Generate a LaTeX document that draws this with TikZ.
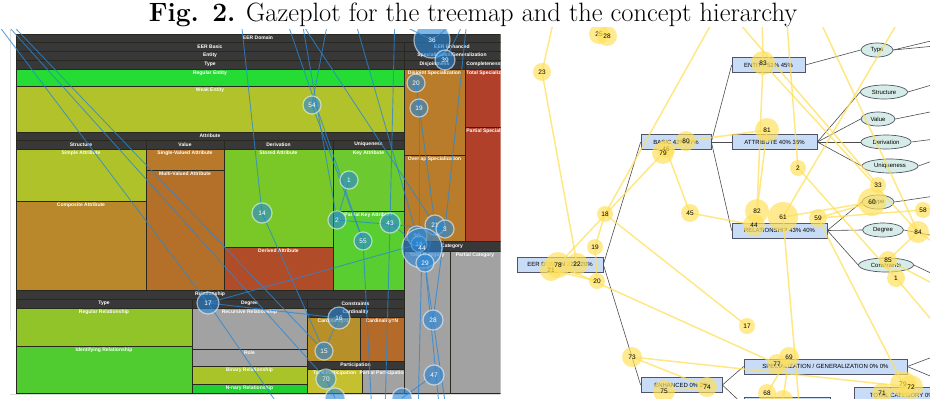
\documentclass[tikz,border=0pt]{standalone}
\usepackage{fontspec}
\setsansfont{Liberation Sans}
\usepackage{tikz}
\usetikzlibrary{shapes.geometric}
\definecolor{cHead}    {RGB}{56,56,56}
\definecolor{cTmEdge}  {RGB}{40,40,30}
\definecolor{cRegEnt}  {RGB}{36,220,52}
\definecolor{cWeakEnt} {RGB}{178,194,42}
\definecolor{cSimple}  {RGB}{176,194,42}
\definecolor{cComp}    {RGB}{184,136,42}
\definecolor{cSingle}  {RGB}{184,122,42}
\definecolor{cMulti}   {RGB}{180,112,40}
\definecolor{cStored}  {RGB}{122,200,40}
\definecolor{cDerived} {RGB}{176,76,40}
\definecolor{cKey}     {RGB}{108,202,48}
\definecolor{cPartKey} {RGB}{88,206,48}
\definecolor{cDisj}    {RGB}{184,124,42}
\definecolor{cTotSpec} {RGB}{176,64,42}
\definecolor{cGrey}    {RGB}{162,162,162}
\definecolor{cRegRel}  {RGB}{144,196,40}
\definecolor{cIdRel}   {RGB}{80,204,48}
\definecolor{cBinRel}  {RGB}{168,196,40}
\definecolor{cNnary}   {RGB}{32,208,48}
\definecolor{cCardA}   {RGB}{184,144,42}
\definecolor{cCardN}   {RGB}{180,106,40}
\definecolor{cTotPart} {RGB}{196,192,48}
\definecolor{cBox}     {RGB}{200,220,248}
\definecolor{cBoxLine} {RGB}{80,84,100}
\definecolor{cEll}     {RGB}{214,236,232}
\definecolor{cGazeB}   {RGB}{40,135,215}
\definecolor{cGazeY}   {RGB}{255,224,90}
\pgfdeclarelayer{bottom}
\pgfdeclarelayer{lines}
\pgfsetlayers{bottom,lines,main}
\tikzset{
  tmline/.style={draw=cTmEdge,line width=0.5pt},
  tmlbl/.style={text=white,inner sep=1.2pt,font=\sffamily\bfseries\fontsize{5}{5}\selectfont},
  gazeB/.style={circle,minimum size=#1,inner sep=0pt,fill=cGazeB,fill opacity=0.6,
                draw=white,draw opacity=0.55,line width=1.2pt,text=white,text opacity=1,
                font=\sffamily\fontsize{6.5}{7}\selectfont},
  gazeY/.style={circle,minimum size=#1,inner sep=0pt,fill=cGazeY,fill opacity=0.68,
                text=black,text opacity=1,font=\sffamily\fontsize{6.5}{7}\selectfont},
  bpath/.style={cGazeB,line width=0.9pt,opacity=0.75},
  ypath/.style={cGazeY,line width=1.5pt,opacity=0.75},
  cbox/.style={draw=cBoxLine,fill=cBox,line width=0.7pt,minimum height=15pt,inner sep=0pt,
               font=\sffamily\fontsize{6}{6}\selectfont}, % concept box
  concept/.style={ellipse,draw=cBoxLine,fill=cEll,line width=0.7pt,minimum height=14pt,
                  inner sep=0pt,font=\sffamily\fontsize{6}{6}\selectfont}, % leaf concept
  tree/.style={draw=black!70,line width=0.6pt},
}
% treemap cell: x1,y1,x2,y2,colour,label
\newcommand{\tmcell}[6]{%
  \draw[tmline,fill=#5] (#1,#2) rectangle (#3,#4);
  \node[tmlbl,anchor=north] at ({(#1+#3)/2},#2) {#6};}
% treemap header row: x1,y1,x2,y2,label
\newcommand{\tmhead}[5]{%
  \draw[tmline,fill=cHead] (#1,#2) rectangle (#3,#4);
  \node[tmlbl] at ({(#1+#3)/2},{(#2+#4)/2}) {#5};}

\begin{document}
\begin{tikzpicture}[x=1pt,y=-1pt]
  \useasboundingbox (0,0) rectangle (930,399);
  \node[anchor=base,font=\fontsize{26.5}{28}\selectfont] (title) at (473,21)
    {\textbf{Fig. 2.} Gazeplot for the treemap and the concept hierarchy};

  \begin{pgfonlayer}{bottom}
  % treemap
  \begin{scope}
    \clip (0,29) rectangle (500.5,399);
    \fill[white] (0,29) rectangle (500.5,399);
    \draw[gray!25,line width=1pt] (10,30) -- (10,330);
    \draw[gray!30,line width=0.8pt] (10,394.5) -- (500,394.5);
    \tmhead{16}{34}{500}{42}{EER Domain}
    \tmhead{16}{42}{404}{51}{EER Basic}
    \tmhead{16}{51}{404}{60}{Entity}
    \tmhead{16}{60}{404}{69}{Type}
    \tmcell{16}{69}{404}{86}{cRegEnt}{Regular Entity}
    \tmcell{16}{86}{404}{132}{cWeakEnt}{Weak Entity}
    \tmhead{16}{132}{404}{140}{Attribute}
    \tmhead{16}{140}{146}{149}{Structure}
    \tmhead{146}{140}{224}{149}{Value}
    \tmhead{224}{140}{333}{149}{Derivation}
    \tmhead{333}{140}{404}{149}{Uniqueness}
    \tmcell{16}{149}{146}{201}{cSimple}{Simple Attribute}
    \tmcell{16}{201}{146}{290}{cComp}{Composite Attribute}
    \tmcell{146}{149}{224}{170}{cSingle}{Single-Valued Attribute}
    \tmcell{146}{170}{224}{290}{cMulti}{Multi-Valued Attribute}
    \tmcell{224}{149}{333}{247}{cStored}{Stored Attribute}
    \tmcell{224}{247}{333}{290}{cDerived}{Derived Attribute}
    \tmcell{333}{149}{404}{211}{cKey}{Key Attribute}
    \tmcell{333}{211}{404}{290}{cPartKey}{Partial Key Attribute}
    \tmhead{16}{290}{404}{299}{Relationship}
    \tmhead{16}{299}{192}{308}{Type}
    \tmhead{192}{299}{307}{308}{Degree}
    \tmhead{307}{299}{404}{308}{Constraints}
    \tmcell{16}{308}{192}{346}{cRegRel}{Regular Relationship}
    \tmcell{16}{346}{192}{393}{cIdRel}{Identifying Relationship}
    \tmcell{192}{308}{307}{349}{cGrey}{Recursive Relationship}
    \tmcell{192}{349}{307}{366}{cGrey}{Role}
    \tmcell{192}{366}{307}{384}{cBinRel}{Binary Relationship}
    \tmcell{192}{384}{307}{393}{cNnary}{N-nary Relationship}
    \tmhead{307}{308}{404}{317}{Cardinality}
    \tmcell{307}{317}{360}{361}{cCardA}{Cardinality=1}
    \tmcell{360}{317}{404}{361}{cCardN}{Cardinality=N}
    \tmhead{307}{361}{404}{369}{Participation}
    \tmcell{307}{369}{362}{393}{cTotPart}{Total Participation}
    \tmcell{362}{369}{404}{393}{cGrey}{Partial Participation}
    % enhanced part, cut at the right
    \tmhead{404}{42}{500}{51}{EER Enhanced}
    \tmhead{404}{51}{500}{60}{Specialization/Generalization}
    \tmhead{404}{60}{465}{69}{Disjointness}
    \tmhead{465}{60}{520}{69}{}
    \node[tmlbl,anchor=west] at (465,64.5) {Completeness};
    \tmcell{404}{69}{465}{155}{cDisj}{Disjoint Specialization}
    \tmcell{404}{155}{465}{241}{cDisj}{Overlap Specialization}
    \tmcell{465}{69}{520}{127}{cTotSpec}{}
    \node[tmlbl,anchor=north west] at (465,69) {Total Specialization};
    \tmcell{465}{127}{520}{241}{cTotSpec}{}
    \node[tmlbl,anchor=north west] at (465,127) {Partial Specialization};
    \tmhead{404}{241}{500}{251}{Category}
    \tmcell{404}{251}{450}{393}{cGrey}{Total Category}
    \tmcell{450}{251}{520}{393}{cGrey}{}
    \node[tmlbl,anchor=north] at (475,251) {Partial Category};
  \end{scope}

  % concept hierarchy
  \node[cbox,minimum width=86pt]  (eer)     at (560,264.5) {EER DOMAIN 22\% 20\%};
  \node[cbox,minimum width=70pt]  (basic)   at (676,142)   {BASIC 42\% 37\%};
  \node[cbox,minimum width=73pt]  (entity)  at (768.5,65)  {ENTITY 52\% 45\%};
  \node[cbox,minimum width=85pt]  (attr)    at (774.5,142) {ATTRIBUTE 40\% 36\%};
  \node[cbox,minimum width=95pt]  (rel)     at (779.5,230.5) {RELATIONSHIP 43\% 40\%};
  \node[cbox,minimum width=81pt]  (enh)     at (681.5,385) {ENHANCED 0\% 0\%};
  \node[cbox,minimum width=163pt] (specgen) at (825.5,366.5) {SPECIALIZATION / GENERALIZATION 0\% 0\%};
  \node[cbox,minimum width=106pt] (totcat)  at (907,395)   {TOTAL CATEGORY 0\% 0\%};
  \node[cbox,minimum width=86pt]  (lowbox)  at (787,405)   {};
  \node[concept,minimum width=32pt] (typeE)  at (877,50)  {Type};
  \node[concept,minimum width=47pt] (struct) at (884,92)  {Structure};
  \node[concept,minimum width=34pt] (value)  at (878,119) {Value};
  \node[concept,minimum width=50pt] (deriv)  at (886,142) {Derivation};
  \node[concept,minimum width=56pt] (uniq)   at (890,166) {Uniqueness};
  \node[concept,minimum width=32pt] (typeR)  at (878,202) {Type};
  \node[concept,minimum width=41pt] (degree) at (883,230) {Degree};
  \node[concept,minimum width=55pt] (constr) at (886,265) {Constraints};
  \draw[tree] (eer.east) -- (basic.west);
  \draw[tree] (eer.east) -- (enh.west);
  \foreach \c in {entity,attr,rel} \draw[tree] (basic.east) -- (\c.west);
  \draw[tree] (entity.east) -- (typeE.west);
  \foreach \c in {struct,value,deriv,uniq} \draw[tree] (attr.east) -- (\c.west);
  \foreach \c in {typeR,degree,constr} \draw[tree] (rel.east) -- (\c.west);
  \draw[tree] (enh.east) -- (specgen.west);
  \draw[tree] (enh.east) -- (lowbox.west);
  % children beyond the right edge
  \coordinate (r1) at (935,40);  \coordinate (r2) at (935,46);
  \coordinate (r3) at (935,84);  \coordinate (r4) at (935,111);
  \coordinate (r5) at (935,139); \coordinate (r6) at (935,160);
  \coordinate (r7) at (935,196); \coordinate (r8) at (935,236);
  \coordinate (r9) at (935,275); \coordinate (r10) at (935,356);
  \coordinate (r11) at (935,378);
  \foreach \a/\b in {typeE/r1,typeE/r2,struct/r3,value/r4,deriv/r5,uniq/r6,
                     typeR/r7,degree/r8,constr/r9,specgen/r10,specgen/r11}
    \draw[tree] (\a.east) -- (\b);
  \end{pgfonlayer}

  % gaze fixations on the treemap
  \begin{scope}
    \clip (0,29) rectangle (503,399);
    \node[gazeB=36pt] (b36) at (432,40)  {36};
    \node[gazeB=20pt] (b39) at (445,60)  {39};
    \node[gazeB=18pt] (b20) at (416,83)  {20};
    \node[gazeB=18pt] (b19) at (419,108) {19};
    \node[gazeB=18pt] (b54) at (312,105) {54};
    \node[gazeB=18pt] (b1)  at (349,180) {1};
    \node[gazeB=20pt] (b14) at (262,213) {14};
    \node[gazeB=18pt] (b2)  at (337,220) {2};
    \node[gazeB=20pt] (b43) at (390,223) {43};
    \node[gazeB=18pt] (b55) at (363,241) {55};
    \node[gazeB=20pt] (b21) at (435,225) {21};
    \node[gazeB=18pt] (b3)  at (445,229) {3};
    \node[gazeB=20pt] (b30) at (417,236) {30};
    \node[gazeB=16pt] (b18) at (419,244) {18};
    \node[gazeB=40pt] (b44) at (422,248) {44};
    \node[gazeB=18pt] (b29) at (425,263) {29};
    \node[gazeB=22pt] (b17) at (208,303) {17};
    \node[gazeB=22pt] (b16) at (339,318) {16};
    \node[gazeB=18pt] (b15) at (324,351) {15};
    \node[gazeB=20pt] (b28) at (433,320) {28};
    \node[gazeB=20pt] (b70) at (326,379) {70};
    \node[gazeB=20pt] (b47) at (434,375) {47};
    \node[gazeB=20pt] (b35) at (335,398) {};
    \node[gazeB=20pt] (b48) at (402,398) {};
  \end{scope}

  % gaze fixations on the hierarchy
  \begin{scope}
    \clip (507,27) rectangle (930,399);
    \node[gazeY=20pt] (y25) at (599,34)  {25};
    \node[gazeY=20pt] (y28) at (607,36)  {28};
    \node[gazeY=18pt] (y23) at (542,72)  {23};
    \node[gazeY=24pt] (y83) at (763,63)  {83};
    \node[gazeY=18pt] (y46) at (666,149) {46};
    \node[gazeY=22pt] (y79) at (663,153) {79};
    \node[gazeY=20pt] (y80) at (686,141) {80};
    \node[gazeY=24pt] (y81) at (767,130) {81};
    \node[gazeY=16pt] (y2)  at (798,168) {2};
    \node[gazeY=16pt] (y33) at (878,185) {33};
    \node[gazeY=28pt] (y60) at (872,202) {60};
    \node[gazeY=16pt] (y58) at (923,210) {58};
    \node[gazeY=16pt] (y18) at (605,214) {18};
    \node[gazeY=18pt] (y45) at (690,213) {45};
    \node[gazeY=16pt] (y19) at (595,247) {19};
    \node[gazeY=22pt] (y21) at (551,270) {21};
    \node[gazeY=26pt] (y78) at (558,265) {78};
    \node[gazeY=22pt] (y22) at (577,264) {22};
    \node[gazeY=16pt] (y20) at (597,281) {20};
    \node[gazeY=20pt] (y73) at (632,357) {73};
    \node[gazeY=22pt] (y75) at (664,391) {75};
    \node[gazeY=20pt] (y74) at (707,387) {74};
    \node[gazeY=24pt] (y82) at (757,211) {82};
    \node[gazeY=22pt] (y44) at (754,225) {44};
    \node[gazeY=30pt] (y61) at (783,217) {61};
    \node[gazeY=18pt] (y59) at (818,218) {59};
    \node[gazeY=22pt] (y84) at (918,232) {84};
    \node[gazeY=18pt] (y85) at (888,260) {85};
    \node[gazeY=18pt] (y1)  at (896,278) {1};
    \node[gazeY=16pt] (y17) at (747,326) {17};
    \node[gazeY=20pt] (y77) at (777,364) {77};
    \node[gazeY=20pt] (y69) at (789,357) {69};
    \node[gazeY=18pt] (y68) at (767,393) {68};
    \node[gazeY=20pt] (y70) at (783,400) {};
    \node[gazeY=20pt] (y71) at (882,393) {71};
    \node[gazeY=26pt] (y79b) at (903,384) {79};
    \node[gazeY=24pt] (y72) at (911,387) {72};
  \end{scope}

  \begin{pgfonlayer}{lines}
  % saccades on the treemap
  \begin{scope}
    \clip (0,29) rectangle (503,399);
    \coordinate (bl1) at (-10,14);  \coordinate (bl2) at (-8,8);
    \coordinate (bl3) at (-2,10);   \coordinate (bt1) at (240,10);
    \coordinate (bt2) at (283,10);  \coordinate (bt3) at (293,10);
    \coordinate (bt4) at (330,10);  \coordinate (bt5) at (352,10);
    \coordinate (bt6) at (372,10);  \coordinate (bt7) at (470,10);
    \coordinate (bt8) at (468,10);  \coordinate (bt9) at (395,10);
    \coordinate (bt10) at (300,10); \coordinate (bt11) at (465,15);
    \coordinate (bb1) at (418,415); \coordinate (bb2) at (447,415);
    \coordinate (bb3) at (285,415); \coordinate (bb4) at (385,415);
    \coordinate (bb5) at (372,415); \coordinate (bb6) at (440,415);
    \foreach \a/\b in {b1/b2,b2/b3,b14/b15,b15/b16,b16/b17,b17/b18,b18/b19,b19/b20,
                       b20/b21,b28/b29,b29/b30,b43/b44,b54/b55,b36/b39,b47/b48,b70/b35,
                       b28/b3,b21/b29,
                       bl1/b17,bl2/b70,bl3/b15,bt1/b14,bt2/b55,bt3/b21,bt4/b54,
                       bt5/b30,bt6/b36,bt7/b39,bt8/b3,bt9/b43,bt10/b2,bt11/b36,
                       b44/bb1,b28/bb2,b17/bb3,b43/bb4,b55/bb5,b29/bb6}
      \draw[bpath] (\a.center) -- (\b.center);
  \end{scope}
  % saccades on the hierarchy
  \begin{scope}
    \clip (507,27) rectangle (930,399);
    \coordinate (yt1) at (556,10);  \coordinate (yt2) at (718,12);
    \coordinate (yt3) at (728,10);  \coordinate (yt4) at (786,10);
    \coordinate (yt5) at (815,10);  \coordinate (yt6) at (905,10);
    \coordinate (yt7) at (762,10);  \coordinate (yr1) at (945,205);
    \coordinate (yr2) at (945,250); \coordinate (yr3) at (945,290);
    \coordinate (yb1) at (800,415); \coordinate (yb2) at (940,330);
    \foreach \a/\b in {y17/y18,y18/y19,y19/y20,y20/y21,y22/y23,y1/y2,y44/y45,y45/y46,
                       y58/y59,y59/y60,y60/y61,y68/y69,y69/y70,y71/y72,y72/y73,
                       y73/y74,y74/y75,y77/y78,y78/y79,y79/y80,y80/y81,y81/y82,
                       y82/y83,y83/y84,y84/y85,y59/y79b,
                       y23/yt1,y18/yt2,y33/yt3,y2/yt4,y84/yt5,y61/yt6,y83/yt7,
                       y58/yr1,y84/yr2,y85/yr3,y61/yb1,y1/yb2}
      \draw[ypath] (\a.center) -- (\b.center);
  \end{scope}
  \end{pgfonlayer}
\end{tikzpicture}
\end{document}
